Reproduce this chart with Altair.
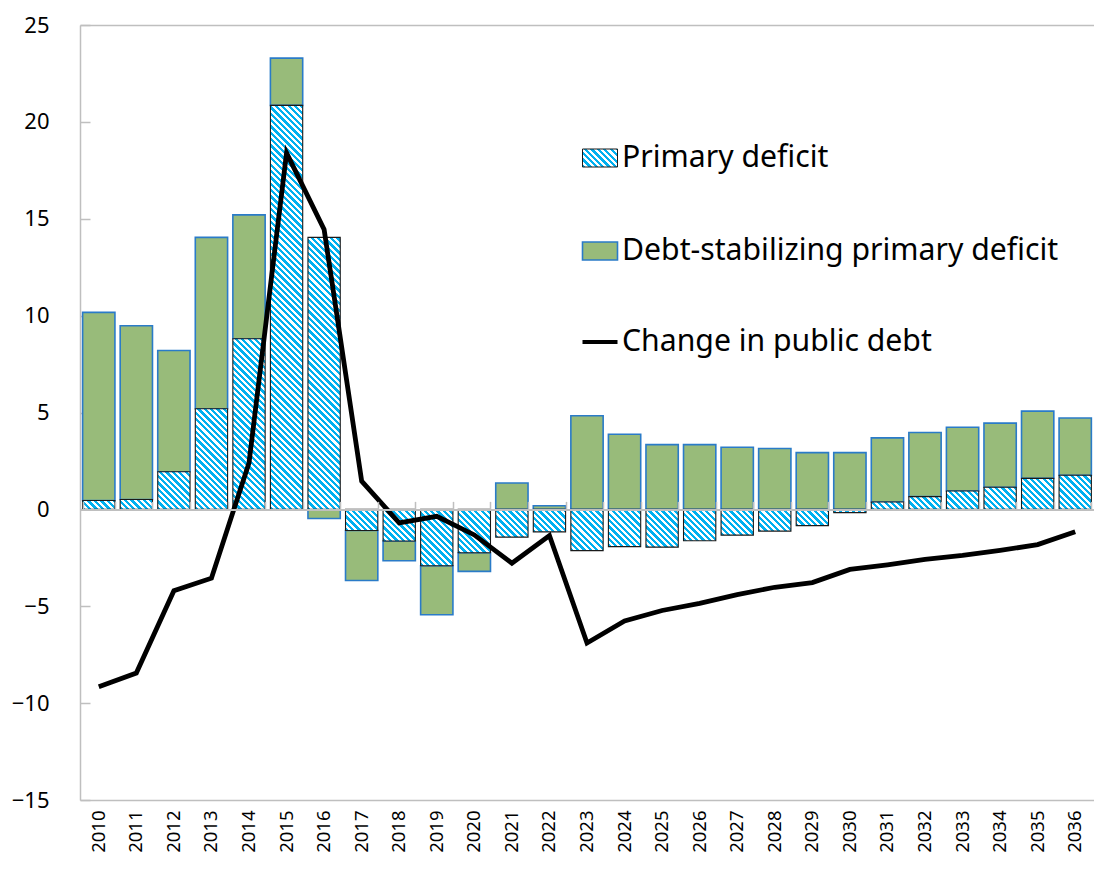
import math
import altair as alt
import pandas as pd

# ---------------- data ----------------
years = [str(y) for y in range(2010, 2037)]
primary_deficit = [0.46, 0.51, 1.94, 5.19, 8.81, 20.85, 14.04, -1.09, -1.63, -2.91,
                   -2.24, -1.43, -1.16, -2.13, -1.92, -1.95, -1.62, -1.33, -1.12, -0.84,
                   -0.17, 0.38, 0.66, 0.95, 1.14, 1.60, 1.76]
debt_stabilizing = [9.71, 8.97, 6.26, 8.85, 6.39, 2.44, -0.47, -2.58, -1.02, -2.53,
                    -0.96, 1.36, 0.19, 4.83, 3.88, 3.34, 3.34, 3.21, 3.14, 2.93,
                    2.93, 3.31, 3.31, 3.29, 3.31, 3.47, 2.96]
debt_change = [-9.15, -8.45, -4.2, -3.55, 2.4, 18.4, 14.45, 1.46, -0.7, -0.36,
               -1.32, -2.78, -1.35, -6.9, -5.76, -5.22, -4.85, -4.4, -4.02, -3.78,
               -3.1, -2.86, -2.58, -2.38, -2.12, -1.82, -1.15]
series_names = ["Primary deficit", "Debt-stabilizing primary deficit", "Change in public debt"]
y_ticks = [-15, -10, -5, 0, 5, 10, 15, 20, 25]

# ---------------- styling ----------------
W, H = 1014, 775
PAD = {"left": 72, "top": 17, "right": 0, "bottom": 53}
Y_MIN, Y_MAX = -15, 25
PAD_INNER = 0.14
FONT = "Noto Sans"
BLUE = "#00B0F0"
GREEN = "#98BB7A"
GREEN_EDGE = "#2A7BC8"
FRAME = "#BFBFBF"

# stacked green segment (Excel-style: same-sign stacks on the hatched bar)
g_lo, g_hi = [], []
for p, g in zip(primary_deficit, debt_stabilizing):
    base = p if (p >= 0) == (g >= 0) else 0.0
    g_lo.append(base)
    g_hi.append(base + g)

df = pd.DataFrame({
    "year": years,
    "primary": primary_deficit,
    "g_lo": g_lo,
    "g_hi": g_hi,
    "debt": debt_change,
})


def hatch(w, h, period=4.5, frac=0.52):
    """Diagonal '\\' stripes as an objectBoundingBox linear gradient."""
    h = max(h, 0.5)
    k = w * h * (w + h) / (w * w + h * h)
    x2 = k / h
    y2 = 1 - k / w
    total = (w + h) / math.sqrt(2)
    n = total / period
    stops = []
    i = 0
    while i < n:
        a = min(i / n, 1)
        b = min((i + frac) / n, 1)
        c = min((i + 1) / n, 1)
        stops += [{"offset": a, "color": BLUE}, {"offset": b, "color": BLUE},
                  {"offset": b, "color": "white"}, {"offset": c, "color": "white"}]
        i += 1
    return {"gradient": "linear", "x1": 0, "y1": 1, "x2": x2, "y2": y2, "stops": stops}


bar_w = W / len(years) * (1 - PAD_INNER)
px_per_unit = H / (Y_MAX - Y_MIN)
fill_conditions = [
    {"test": f"datum.year === '{yr}'", "value": hatch(bar_w, abs(p) * px_per_unit)}
    for yr, p in zip(years, primary_deficit)
]

xscale = alt.Scale(domain=years, paddingInner=PAD_INNER, paddingOuter=PAD_INNER / 2)
yscale = alt.Scale(domain=[Y_MIN, Y_MAX], nice=False, zero=False)

green = alt.Chart(df).mark_bar(fill=GREEN, stroke=GREEN_EDGE, strokeWidth=1.6).encode(
    x=alt.X("year:N", sort=years, scale=xscale,
            axis=alt.Axis(orient="bottom", title=None, labelAngle=-90, labelFontSize=18.5,
                          labelFont=FONT, labelColor="black", labelPadding=10,
                          ticks=False, domainColor=FRAME, domainWidth=1.5)),
    y=alt.Y("g_lo:Q", scale=yscale,
            axis=alt.Axis(orient="left", title=None, values=y_ticks, labelFontSize=22,
                          labelFont=FONT, labelColor="black", ticks=False, labelPadding=31,
                          domainColor=FRAME, domainWidth=1.5, grid=False)),
    y2="g_hi:Q",
)

hatched = alt.Chart(df).mark_bar(stroke="#1a1a1a", strokeWidth=1.1).encode(
    x=alt.X("year:N", sort=years, scale=xscale,
            axis=alt.Axis(orient="top", offset=-(H * Y_MAX / (Y_MAX - Y_MIN)), title=None,
                          labels=False, ticks=True, tickBand="extent", tickSize=8,
                          tickColor=FRAME, tickWidth=1.5, domainColor=FRAME,
                          domainWidth=2, zindex=1)),
    y=alt.Y("primary:Q", scale=yscale, axis=None),
    fill={"condition": fill_conditions, "value": BLUE},
)

line = alt.Chart(df).mark_line(color="black", strokeWidth=4.8).encode(
    x=alt.X("year:N", sort=years, scale=xscale,
            axis=alt.Axis(orient="top", offset=0, title=None, labels=False, ticks=False,
                          domainColor=FRAME, domainWidth=1.5)),
    y=alt.Y("debt:Q", scale=yscale,
            axis=alt.Axis(orient="right", offset=-W, title=None, labels=False, domain=False,
                          ticks=True, tickSize=10, tickColor=FRAME, tickWidth=1.5,
                          values=y_ticks, grid=False)),
)

# ---------------- legend (drawn inside the plot) ----------------
one = alt.Data(values=[{}])
LX0, LX1, TX = 502.5, 537.5, 542
rows = [133, 226, 317]

leg_hatch = alt.Chart(one).mark_rect(fill=hatch(35, 18), stroke="#1a1a1a", strokeWidth=1).encode(
    x=alt.value(LX0), x2=alt.value(LX1), y=alt.value(rows[0] - 9), y2=alt.value(rows[0] + 9))
leg_green = alt.Chart(one).mark_rect(fill=GREEN, stroke=GREEN_EDGE, strokeWidth=1.6).encode(
    x=alt.value(LX0), x2=alt.value(LX1), y=alt.value(rows[1] - 9), y2=alt.value(rows[1] + 9))
leg_line = alt.Chart(one).mark_rule(color="black", strokeWidth=4).encode(
    x=alt.value(LX0), x2=alt.value(LX1), y=alt.value(rows[2]))
leg_text = [
    alt.Chart(one).mark_text(text=name, align="left", baseline="middle", font=FONT,
                             fontSize=30.2, color="black").encode(
        x=alt.value(TX), y=alt.value(r))
    for name, r in zip(series_names, rows)
]

chart = alt.layer(green, hatched, line, leg_hatch, leg_green, leg_line, *leg_text).resolve_axis(
    x="independent", y="independent"
).properties(
    width=W, height=H, padding=PAD, autosize=alt.AutoSizeParams(type="none")
).configure_view(stroke=None).configure_axis(grid=False)

chart.save("out.html", embed_options={"renderer": "svg", "actions": False})
